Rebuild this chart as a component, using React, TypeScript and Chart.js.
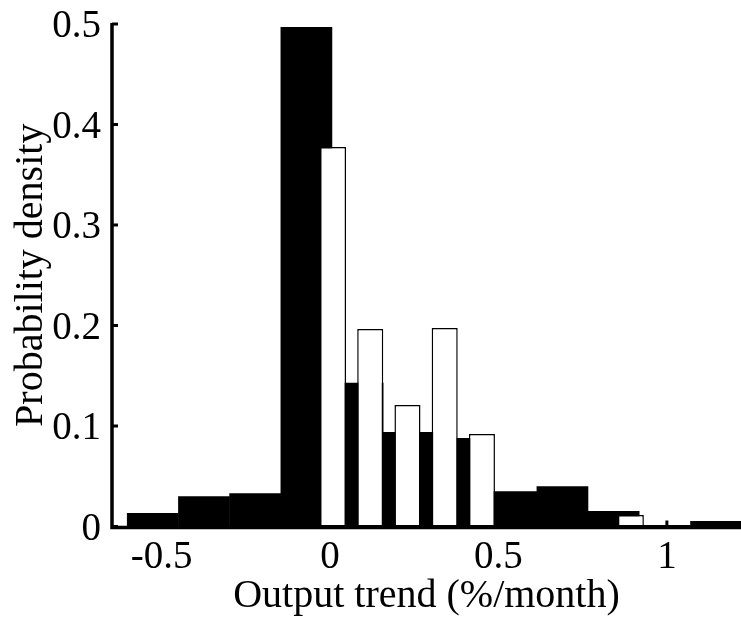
import React, { useEffect, useRef } from "react";
import { Chart, registerables } from "chart.js";

Chart.register(...registerables);

// Black histogram (wide bins): bin centres and probability density
const blackCenters = [-0.526, -0.374, -0.222, -0.07, 0.082, 0.234, 0.386, 0.538, 0.69, 0.842, 0.994, 1.146];
const blackDensity = [0.0134, 0.03, 0.033, 0.497, 0.143, 0.094, 0.088, 0.035, 0.04, 0.0154, 0.0015, 0.0055];

// White histogram (narrow bars): bin centres and probability density
const whiteCenters = [0.009, 0.1195, 0.23, 0.3405, 0.451, 0.5615, 0.672, 0.7825, 0.893];
const whiteDensity = [0.3776, 0.1965, 0.121, 0.1975, 0.092, 0, 0, 0, 0.0114];

// Axis ticks
const xTicks = [-0.5, 0, 0.5, 1];
const xTickLabels = ["-0.5", "0", "0.5", "1"];
const yTicks = [0, 0.1, 0.2, 0.3, 0.4, 0.5];
const yTickLabels = ["0", "0.1", "0.2", "0.3", "0.4", "0.5"];

const X_MIN = -0.647;
const X_MAX = 1.22;

const FAMILY = "'Liberation Serif', 'Times New Roman', Times, serif";

const axesPlugin = {
  id: "matlabAxes",
  beforeDatasetsDraw(chart: any) {
    const { ctx, chartArea, scales } = chart;
    ctx.save();
    ctx.strokeStyle = "#000";
    ctx.lineWidth = 3;
    ctx.lineCap = "butt";
    xTicks.forEach((v) => {
      const px = scales.x.getPixelForValue(v);
      ctx.beginPath();
      ctx.moveTo(px, chartArea.bottom);
      ctx.lineTo(px, chartArea.bottom - 6);
      ctx.stroke();
    });
    ctx.restore();
  },
  afterDatasetsDraw(chart: any) {
    const { ctx, chartArea, scales } = chart;
    ctx.save();
    ctx.strokeStyle = "#000";
    ctx.lineWidth = 3;
    yTicks.forEach((v) => {
      const py = scales.y.getPixelForValue(v);
      ctx.beginPath();
      ctx.moveTo(chartArea.left, py);
      ctx.lineTo(chartArea.left + 6, py);
      ctx.stroke();
    });
    ctx.lineWidth = 3.5;
    ctx.lineJoin = "miter";
    ctx.beginPath();
    ctx.moveTo(chartArea.left, chartArea.top - 1);
    ctx.lineTo(chartArea.left, chartArea.bottom + 1);
    ctx.lineTo(chartArea.right + 2, chartArea.bottom + 1);
    ctx.stroke();
    ctx.restore();
  },
};

export default function App() {
  const canvasRef = useRef<HTMLCanvasElement | null>(null);

  useEffect(() => {
    document.body.style.margin = "0";
    const canvas = canvasRef.current;
    if (!canvas) return;

    const tickFont = { family: FAMILY, size: 39, lineHeight: 1.2 };
    const titleFont = { family: FAMILY, size: 40, lineHeight: 1 };

    const chart = new Chart(canvas, {
      type: "bar",
      data: {
        datasets: [
          {
            label: "white",
            data: whiteCenters.map((x, i) => ({ x, y: whiteDensity[i] })),
            xAxisID: "x2",
            yAxisID: "y",
            backgroundColor: "#ffffff",
            borderColor: "#000000",
            borderWidth: 1.5,
            borderSkipped: false,
            barPercentage: 0.7,
            categoryPercentage: 1,
            grouped: false,
          } as any,
          {
            label: "black",
            data: blackCenters.map((x, i) => ({ x, y: blackDensity[i] })),
            xAxisID: "x",
            yAxisID: "y",
            backgroundColor: "#000000",
            borderColor: "#000000",
            borderWidth: 0,
            barPercentage: 1.01,
            categoryPercentage: 1,
            grouped: false,
          } as any,
        ],
      },
      options: {
        responsive: false,
        animation: false,
        layout: { padding: { top: 24, right: 0, left: 0, bottom: 0 } },
        plugins: {
          legend: { display: false },
          tooltip: { enabled: false },
        },
        scales: {
          x: {
            type: "linear",
            position: "bottom",
            min: X_MIN,
            max: X_MAX,
            offset: false,
            afterFit: (s: any) => {
              s.height = 91.5;
              s.paddingLeft = 0;
              s.paddingRight = 0;
            },
            afterBuildTicks: (s: any) => {
              s.ticks = xTicks.map((v) => ({ value: v }));
            },
            ticks: {
              autoSkip: false,
              maxRotation: 0,
              minRotation: 0,
              padding: 8,
              color: "#000",
              font: tickFont,
              callback: (_v: any, i: number) => xTickLabels[i],
            },
            grid: { display: false, drawTicks: false },
            border: { display: false },
            title: {
              display: true,
              text: "Output trend (%/month)",
              color: "#000",
              font: titleFont,
              padding: { top: 0, bottom: 1.5 },
            },
          },
          x2: {
            type: "linear",
            position: "bottom",
            min: X_MIN,
            max: X_MAX,
            offset: false,
            display: false,
          },
          y: {
            type: "linear",
            position: "left",
            min: 0,
            max: 0.5,
            afterFit: (s: any) => {
              s.width = 112;
              s.paddingTop = 0;
              s.paddingBottom = 0;
            },
            afterBuildTicks: (s: any) => {
              s.ticks = yTicks.map((v) => ({ value: v }));
            },
            ticks: {
              padding: 11,
              labelOffset: 3,
              color: "#000",
              font: tickFont,
              callback: (_v: any, i: number) => yTickLabels[i],
            },
            grid: { display: false, drawTicks: false },
            border: { display: false },
            title: {
              display: true,
              text: "Probability density",
              color: "#000",
              font: titleFont,
              padding: { top: 11, bottom: 0 },
            },
          },
        },
      } as any,
      plugins: [axesPlugin],
    });

    return () => {
      chart.destroy();
    };
  }, []);

  return (
    <div style={{ width: 741, height: 618, background: "#fff" }}>
      <canvas ref={canvasRef} width={741} height={618} style={{ display: "block" }} />
    </div>
  );
}
